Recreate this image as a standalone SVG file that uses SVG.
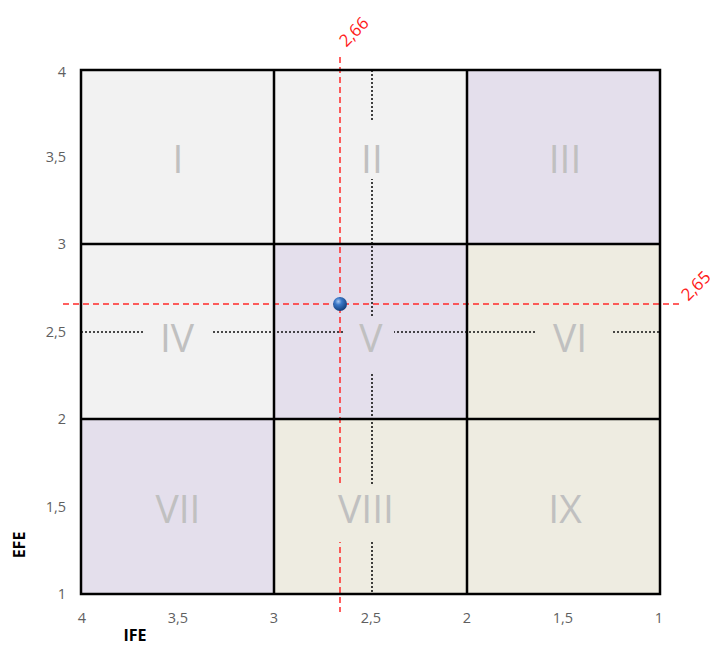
<svg xmlns="http://www.w3.org/2000/svg" width="717" height="647" viewBox="0 0 717 647">
<defs>
<style>
.gray{fill:#f2f2f2}.lav{fill:#e4dfec}.beige{fill:#eeece1}
.roman{font-family:"Open Sans","Liberation Sans",sans-serif;font-size:39px;fill:#c0c0c0;text-anchor:middle}
.tick{font-family:"Open Sans","Liberation Sans",sans-serif;font-size:14.5px;fill:#5f5f5f}
.dot{stroke:#111;stroke-width:1.6;stroke-dasharray:2 2;fill:none}
.red{stroke:#ff2a2a;stroke-width:1.5;stroke-dasharray:6 4;fill:none}
.grid{stroke:#000;stroke-width:2.5;fill:none}
.redtxt{font-family:"Open Sans","Liberation Sans",sans-serif;font-size:17px;fill:#ff1a1a;text-anchor:middle}
.axis{font-family:"Open Sans","Liberation Sans",sans-serif;font-size:16px;font-weight:bold;fill:#000;text-anchor:middle}
</style>
<radialGradient id="ball" cx="0.38" cy="0.32" r="0.7">
<stop offset="0" stop-color="#a9c8f0"/>
<stop offset="0.35" stop-color="#3a78c8"/>
<stop offset="1" stop-color="#123e7a"/>
</radialGradient>
</defs>
<g id="cells">
<rect class="gray" x="81" y="70" width="193" height="174"/>
<rect class="gray" x="274" y="70" width="193" height="174"/>
<rect class="lav" x="467" y="70" width="193" height="174"/>
<rect class="gray" x="81" y="244" width="193" height="175"/>
<rect class="lav" x="274" y="244" width="193" height="175"/>
<rect class="beige" x="467" y="244" width="193" height="175"/>
<rect class="lav" x="81" y="419" width="193" height="175"/>
<rect class="beige" x="274" y="419" width="193" height="175"/>
<rect class="beige" x="467" y="419" width="193" height="175"/>
</g>
<g id="connectors">
<line class="dot" x1="372" y1="70" x2="372" y2="594"/>
<line class="dot" x1="81" y1="332" x2="660" y2="332"/>
<line class="red" x1="340" y1="57" x2="340" y2="612"/>
<line class="red" x1="63" y1="304" x2="683" y2="304"/>
</g>
<g id="labels">
<rect class="gray" x="350" y="122" width="44" height="57"/>
<rect class="gray" x="143" y="310" width="70" height="50"/>
<rect class="lav" x="344" y="317" width="50" height="55"/>
<rect class="beige" x="537" y="310" width="75" height="50"/>
<rect class="beige" x="333" y="484" width="78" height="58"/>
<text class="roman" x="178" y="173">I</text>
<text class="roman" x="372" y="173">II</text>
<text class="roman" x="565" y="173">III</text>
<text class="roman" x="177" y="352">IV</text>
<text class="roman" x="371" y="352">V</text>
<text class="roman" x="570" y="352">VI</text>
<text class="roman" x="178" y="523">VII</text>
<text class="roman" x="366" y="523">VIII</text>
<text class="roman" x="565" y="523">IX</text>
</g>
<g id="grid">
<rect class="grid" x="81" y="70" width="579" height="524"/>
<line class="grid" x1="274" y1="70" x2="274" y2="594"/>
<line class="grid" x1="467" y1="70" x2="467" y2="594"/>
<line class="grid" x1="81" y1="244" x2="660" y2="244"/>
<line class="grid" x1="81" y1="419" x2="660" y2="419"/>
</g>
<g id="point">
<circle cx="340" cy="304" r="7" fill="url(#ball)"/>
</g>
<g id="ticks">
<g class="tick" text-anchor="end">
<text x="66" y="77">4</text>
<text x="66" y="162">3,5</text>
<text x="66" y="249">3</text>
<text x="66" y="337">2,5</text>
<text x="66" y="424">2</text>
<text x="66" y="512">1,5</text>
<text x="66" y="599">1</text>
</g>
<g class="tick" text-anchor="middle">
<text x="82" y="623">4</text>
<text x="178" y="623">3,5</text>
<text x="274" y="623">3</text>
<text x="371" y="623">2,5</text>
<text x="467" y="623">2</text>
<text x="563" y="623">1,5</text>
<text x="659" y="623">1</text>
</g>
</g>
<g id="axis-titles">
<text class="axis" transform="translate(25 545) rotate(-90)">EFE</text>
<text class="axis" x="135" y="641">IFE</text>
</g>
<g id="values">
<text class="redtxt" transform="translate(358 36) rotate(-45)">2,66</text>
<text class="redtxt" transform="translate(700 290) rotate(-45)">2,65</text>
</g>
</svg>
